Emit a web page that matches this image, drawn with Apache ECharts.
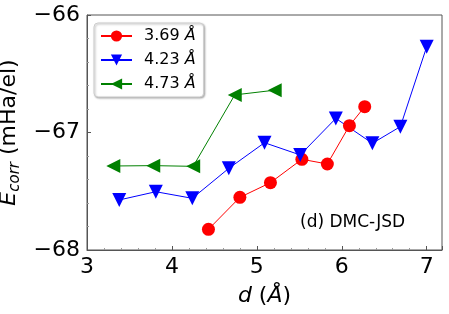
<!DOCTYPE html>
<html><head><meta charset="utf-8">
<script src="https://cdn.jsdelivr.net/npm/echarts@6/dist/echarts.min.js"></script>
<style>html,body{margin:0;padding:0;background:#fff}#c{width:449px;height:314px}</style>
</head><body><div id="c"></div>
<script>
const seriesNames = ['3.69 Å', '4.23 Å', '4.73 Å'];
const d369 = [4.43, 4.80, 5.16, 5.53, 5.83, 6.09, 6.27];
const e369 = [-67.824, -67.552, -67.427, -67.228, -67.268, -66.942, -66.780];
const d423 = [3.38, 3.81, 4.24, 4.67, 5.09, 5.51, 5.93, 6.36, 6.69, 7.00];
const e423 = [-67.574, -67.504, -67.560, -67.305, -67.087, -67.191, -66.880, -67.092, -66.950, -66.270];
const d473 = [3.31, 3.78, 4.25, 4.74, 5.21];
const e473 = [-67.285, -67.282, -67.288, -66.680, -66.640];
const xTicks = [3, 4, 5, 6, 7];
const yTicks = [-68, -67, -66];

const pair = (xs, ys) => xs.map((x, i) => [x, ys[i]]);
const FONT = 'DejaVu Sans';
const AX = '#555';
const chart = echarts.init(document.getElementById('c'));
const mk = (name, data, color, symbol, rot) => ({
  name, type: 'line', data, symbol, symbolSize: symbol === 'circle' ? 13 : 14,
  symbolRotate: rot, showSymbol: true,
  lineStyle: {color, width: 1}, itemStyle: {color}, z: 3, animation: false
});
chart.setOption({
  animation: false,
  grid: {left: 87, right: 7, top: 15, bottom: 64, show: true, borderColor: AX, borderWidth: 1,
    containLabel: false, outerBoundsMode: 'none'},
  legend: {
    left: 94, top: 23, orient: 'vertical', data: seriesNames,
    backgroundColor: '#fff', borderColor: '#ccc', borderWidth: 1, borderRadius: 4,
    shadowColor: 'rgba(0,0,0,0.3)', shadowBlur: 2, shadowOffsetX: 1, shadowOffsetY: 1,
    padding: [5, 8, 5, 6], itemWidth: 31, itemHeight: 14, itemGap: 8,
    formatter: n => n.replace('Å', '{i|Å}'),
    textStyle: {fontFamily: FONT, fontSize: 16, color: '#000', padding: [0, 0, 0, 7],
      rich: {i: {fontFamily: FONT, fontSize: 16, fontStyle: 'italic', color: '#000'}}}
  },
  xAxis: {
    type: 'value', min: 3, max: 7.18, interval: 1,
    name: '{i|d} ({i|Å})', nameLocation: 'middle', nameGap: 35,
    nameTextStyle: {fontFamily: FONT, fontSize: 22, color: '#000',
      rich: {i: {fontFamily: FONT, fontSize: 22, fontStyle: 'italic', color: '#000'}}},
    axisLine: {lineStyle: {color: AX}},
    axisTick: {inside: true, length: 4, lineStyle: {color: AX}},
    minorTick: {show: true, splitNumber: 5, length: 2, lineStyle: {color: '#999'}},
    splitLine: {show: false},
    axisLabel: {fontFamily: FONT, fontSize: 22, color: '#000', margin: 6,
      formatter: v => xTicks.includes(Math.round(v * 1000) / 1000) ? String(v) : ''}
  },
  yAxis: {
    type: 'value', min: -68, max: -66, interval: 1,
    name: '{i|E}{s|corr} (mHa/el)', nameLocation: 'middle', nameGap: 56, nameRotate: 90,
    nameTextStyle: {fontFamily: FONT, fontSize: 22, color: '#000',
      rich: {i: {fontFamily: FONT, fontSize: 22, fontStyle: 'italic', color: '#000'},
             s: {fontFamily: FONT, fontSize: 15, fontStyle: 'italic', color: '#000', verticalAlign: 'bottom', padding: [12, 0, 0, 0]}}},
    axisLine: {show: true, lineStyle: {color: AX}},
    axisTick: {show: true, inside: true, length: 4, lineStyle: {color: AX}},
    minorTick: {show: true, splitNumber: 5, length: 2, lineStyle: {color: '#999'}},
    splitLine: {show: false},
    axisLabel: {fontFamily: FONT, fontSize: 22, color: '#000', margin: 7,
      formatter: v => yTicks.includes(v) ? String(v).replace('-', '\u2212') : ''}
  },
  graphic: [{type: 'text', left: 300, top: 214,
    style: {text: '(d) DMC-JSD', fontFamily: FONT, fontSize: 17, fill: '#000'}}],
  series: [
    mk(seriesNames[0], pair(d369, e369), '#ff0000', 'circle', 0),
    mk(seriesNames[1], pair(d423, e423), '#0000ff', 'triangle', 180),
    mk(seriesNames[2], pair(d473, e473), '#008000', 'triangle', 90)
  ]
});
</script></body></html>
